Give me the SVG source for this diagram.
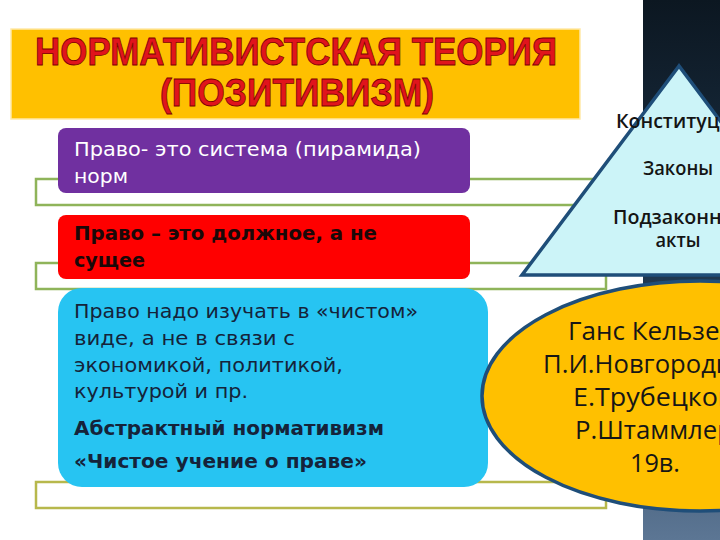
<svg xmlns="http://www.w3.org/2000/svg" width="720" height="540" viewBox="0 0 720 540">
  <defs>
    <linearGradient id="panelGrad" x1="0" y1="0" x2="0" y2="1">
      <stop offset="0" stop-color="#0c1721"/>
      <stop offset="0.5" stop-color="#1e354c"/>
      <stop offset="1" stop-color="#5c7694"/>
    </linearGradient>
    <style>
      .frame { fill: none; stroke: #8FB45A; stroke-width: 2.5; }
      .frame3 { fill: none; stroke: #B7B84C; stroke-width: 2.5; }
      .title { font-family: "Liberation Sans", Arial, sans-serif; font-weight: bold; font-size: 38px; fill: #E0141C; stroke: #7A0000; stroke-width: 0.8; }
      .boxtxt { font-family: "DejaVu Sans", sans-serif; font-size: 20px; }
      .pyr { font-family: "Open Sans", "DejaVu Sans", sans-serif; font-weight: 600; font-size: 19px; fill: #141414; text-anchor: middle; }
      .ell { font-family: "Open Sans", "DejaVu Sans", sans-serif; font-size: 26px; fill: #161616; text-anchor: middle; }
    </style>
  </defs>

  <rect x="0" y="0" width="720" height="540" fill="#ffffff"/>

  <!-- dark right panel -->
  <g id="panel">
    <rect x="643" y="0" width="77" height="540" fill="url(#panelGrad)"/>
  </g>

  <!-- title -->
  <g id="title">
    <rect x="11" y="29" width="569" height="90" fill="#FFC000" stroke="#FFE9A8" stroke-width="1.5"/>
    <text class="title" x="35" y="65" textLength="522" lengthAdjust="spacingAndGlyphs">НОРМАТИВИСТСКАЯ  ТЕОРИЯ</text>
    <text class="title" x="160" y="106" textLength="274" lengthAdjust="spacingAndGlyphs">(ПОЗИТИВИЗМ)</text>
  </g>

  <!-- connectors (bracket frames) -->
  <g id="connectors">
    <rect class="frame" x="36" y="179" width="570" height="26"/>
    <rect class="frame" x="36" y="263" width="570" height="26"/>
    <rect class="frame3" x="36" y="482" width="570" height="26"/>
  </g>

  <g id="box1">
    <rect x="58" y="128" width="412" height="65" rx="8" fill="#7030A0"/>
    <text class="boxtxt" x="74" y="156" fill="#ffffff" textLength="347" lengthAdjust="spacingAndGlyphs">Право- это система (пирамида)</text>
    <text class="boxtxt" x="74" y="183" fill="#ffffff" textLength="54" lengthAdjust="spacingAndGlyphs">норм</text>
  </g>

  <g id="box2">
    <rect x="58" y="215" width="412" height="64" rx="8" fill="#FF0000"/>
    <text class="boxtxt" x="74" y="240" fill="#1a0808" font-weight="bold" textLength="303" lengthAdjust="spacingAndGlyphs">Право – это должное, а не</text>
    <text class="boxtxt" x="74" y="267" fill="#1a0808" font-weight="bold" textLength="71" lengthAdjust="spacingAndGlyphs">сущее</text>
  </g>

  <g id="box3">
    <rect x="58" y="288" width="430" height="199" rx="24" fill="#27C4F2"/>
    <text class="boxtxt" x="74" y="318" fill="#15233a" textLength="344" lengthAdjust="spacingAndGlyphs">Право надо изучать в «чистом»</text>
    <text class="boxtxt" x="74" y="345" fill="#15233a" textLength="221" lengthAdjust="spacingAndGlyphs">виде, а не в связи с</text>
    <text class="boxtxt" x="74" y="372" fill="#15233a" textLength="269" lengthAdjust="spacingAndGlyphs">экономикой, политикой,</text>
    <text class="boxtxt" x="74" y="398" fill="#15233a" textLength="174" lengthAdjust="spacingAndGlyphs">культурой и пр.</text>
    <text class="boxtxt" x="74" y="435" fill="#15233a" font-weight="bold" textLength="310" lengthAdjust="spacingAndGlyphs">Абстрактный нормативизм</text>
    <text class="boxtxt" x="74" y="468" fill="#15233a" font-weight="bold" textLength="293" lengthAdjust="spacingAndGlyphs">«Чистое учение о праве»</text>
  </g>

  <g id="pyramid">
    <polygon points="679,66 522,275 836,275" fill="#CCF4F8" stroke="#1F4E79" stroke-width="3.5" stroke-linejoin="miter"/>
    <text class="pyr" x="680" y="128" textLength="128" lengthAdjust="spacingAndGlyphs">Конституция</text>
    <text class="pyr" x="678" y="175" textLength="70" lengthAdjust="spacingAndGlyphs">Законы</text>
    <text class="pyr" x="681" y="224" textLength="136" lengthAdjust="spacingAndGlyphs">Подзаконные</text>
    <text class="pyr" x="678" y="247" textLength="45" lengthAdjust="spacingAndGlyphs">акты</text>
  </g>

  <g id="authors">
    <ellipse cx="700" cy="396" rx="218" ry="115" fill="#FFC000" stroke="#1F4E79" stroke-width="3.5"/>
    <text class="ell" x="652" y="340" textLength="168" lengthAdjust="spacingAndGlyphs">Ганс Кельзен</text>
    <text class="ell" x="652" y="373" textLength="218" lengthAdjust="spacingAndGlyphs">П.И.Новгородцев</text>
    <text class="ell" x="654" y="406" textLength="162" lengthAdjust="spacingAndGlyphs">Е.Трубецкой</text>
    <text class="ell" x="654" y="439" textLength="158" lengthAdjust="spacingAndGlyphs">Р.Штаммлер</text>
    <text class="ell" x="655" y="472" textLength="50" lengthAdjust="spacingAndGlyphs">19в.</text>
  </g>
</svg>
